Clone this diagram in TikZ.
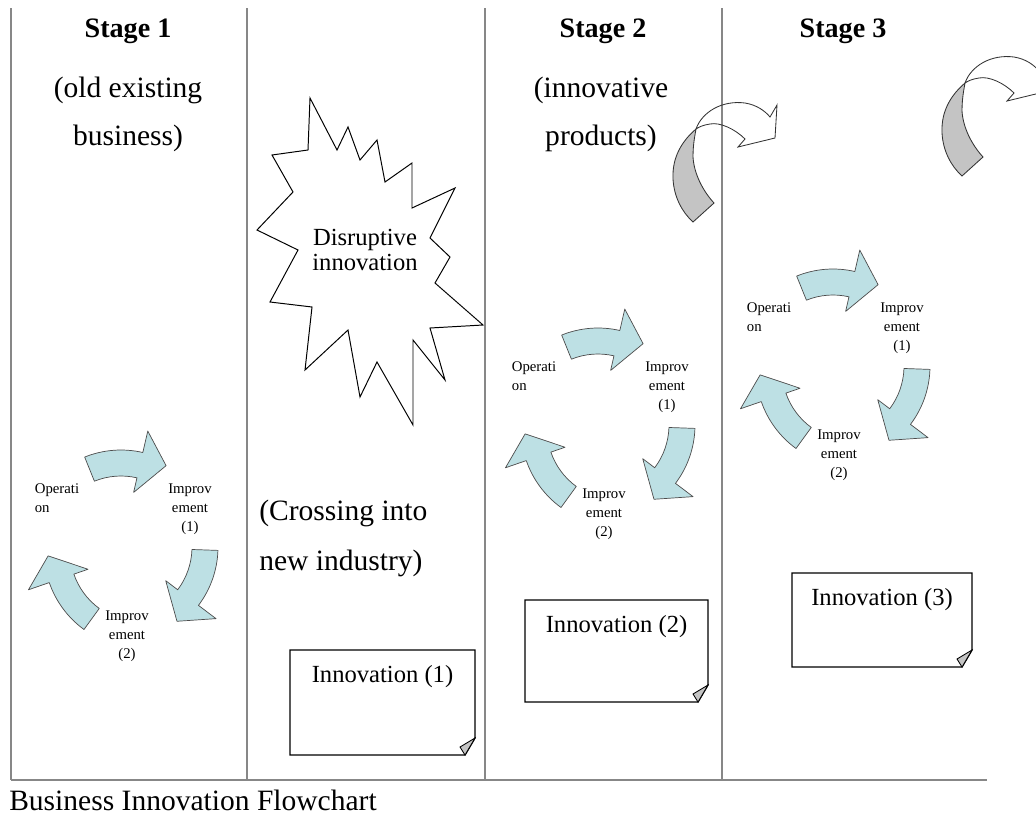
\documentclass[tikz,border=0pt]{standalone}
\usepackage{fontspec}
\setmainfont{Liberation Serif}
\definecolor{cycleblue}{RGB}{189,224,228}
\definecolor{foldgray}{RGB}{196,196,196}
\definecolor{rulegray}{RGB}{135,135,135}
\begin{document}
\begin{tikzpicture}[x = .025cm, y = -.025cm,
    rule/.style = {draw = rulegray, line width = .8pt},
    cyclearrow/.style = {draw = black!70, fill = cycleblue, line width = .5pt, line join = round},
    cycletext/.style = {font = \fontsize{10.5}{13.5}\selectfont, inner sep = 0pt, align = center},
    stagehead/.style = {font = \fontsize{20}{24}\selectfont\bfseries, inner sep = 0pt},
    bigtext/.style = {font = \fontsize{21}{34}\selectfont, inner sep = 0pt, align = center},
    burst/.style = {draw, fill = white, line width = .7pt, line join = miter},
    notebox/.style = {draw, fill = white, line width = 1pt},
    notetext/.style = {font = \fontsize{17.5}{21}\selectfont, inner sep = 0pt},
    twistback/.style = {draw = black!80, fill = foldgray, line width = .6pt},
    twistfront/.style = {draw = black!80, line width = .6pt, line join = miter}]
  \useasboundingbox (0,0) rectangle (1036,816);
  \foreach \x in {11,247,485,722}
    \draw [rule] (\x,8) -- (\x,780);
  \draw [rule, line width = 1.2pt] (11,780) -- (987,780);
  \node [stagehead] (stage1) at (128,31) {Stage 1};
  \node [stagehead] (stage2) at (603,31) {Stage 2};
  \node [stagehead] (stage3) at (843,31) {Stage 3};
  \node [bigtext] (old) at (128,114) {(old existing\\business)};
  \node [bigtext] (innov) at (601,114) {(innovative\\products)};
  \node [bigtext, anchor = north west, align = left, font = \fontsize{21}{35.5}\selectfont]
    (crossing) at (259,500) {(Crossing into\\new industry)};
  \node [bigtext, anchor = west] (caption) at (9,800) {Business Innovation Flowchart};
  \draw [burst] (310,98) -- (337,150) -- (348,127) -- (360,160) -- (377,140) --
        (385,182) -- (412,163) -- (412,208) -- (455,188) -- (430,238) --
        (450,257) -- (435,283) -- (483,325) -- (430,328) -- (445,380) --
        (413,340) -- (413,425) -- (377,362) -- (360,397) -- (348,330) --
        (305,370) -- (312,307) -- (270,302) -- (298,250) -- (257,230) --
        (293,192) -- (272,155) -- (308,150) -- cycle;
  \node [notetext, align = center, font = \fontsize{17.5}{18}\selectfont]
    (disrupt) at (365,250) {Disruptive\\innovation};
  \foreach \c/\cx/\cy in {1/121/547, 2/598/425, 3/833/366}
    {
      \begin{scope}[shift = {(\cx,\cy)}]
      \foreach \a/\dx/\dy in {0/0/0, 122/20/4, 246/0/0}
        \draw [cyclearrow, shift = {(\dx,\dy)}, rotate = \a]
              (-112:97) arc [start angle = -112, end angle = -77, radius = 97] --
              (-77:119) -- (-61:93) -- (-77:56) --
              (-77:71) arc [start angle = -77, end angle = -112, radius = 71] -- cycle;
      \node [cycletext, align = left] (oper\c) at (-64,-49) {Operati\\on};
      \node [cycletext] (impa\c) at (69,-38) {Improv\\ement\\(1)};
      \node [cycletext] (impb\c) at (6,89) {Improv\\ement\\(2)};
      \end{scope}
    }
  \foreach \i/\x/\y/\w/\h in {1/290/650/185/105, 2/525/600/183/102, 3/792/573/180/94}
    {
      \draw [notebox] (\x,\y) -- ({\x+\w},\y) -- ({\x+\w},{\y+\h-17}) --
            ({\x+\w-10},{\y+\h}) -- (\x,{\y+\h}) -- cycle;
      \draw [notebox, fill = foldgray, line width = .6pt] ({\x+\w},{\y+\h-17}) --
            ({\x+\w-15},{\y+\h-8}) -- ({\x+\w-10},{\y+\h}) -- cycle;
      \node [notetext] (note\i) at ({\x+\w/2},{\y+27}) {Innovation (\i)};
    }
  \begin{scope}
    \clip (0,0) rectangle (1036,816);
    \foreach \sx/\sy in {696/129, 965/83}
      {
        \draw [twistback, shift = {(\sx,\sy)}]
              (0,0) .. controls (-14,12) and (-24,28) .. (-23,50)
              .. controls (-22,68) and (-14,83) .. (-3,93) -- (18,74)
              .. controls (7,62) and (-2,45) .. (-3,28)
              .. controls (-3,15) and (-1,6) .. (0,0) -- cycle;
        \draw [twistfront, shift = {(\sx,\sy)}]
              (0,0) .. controls (6,-17) and (26,-29) .. (49,-26)
              .. controls (61,-24) and (69,-18) .. (74,-12) -- (81,-24) --
              (79,9) -- (42,18) -- (49,10)
              .. controls (39,0) and (24,-7) .. (14,-5)
              .. controls (7,-4) and (3,-2) .. (0,0) -- cycle;
      }
  \end{scope}
\end{tikzpicture}
\end{document}
